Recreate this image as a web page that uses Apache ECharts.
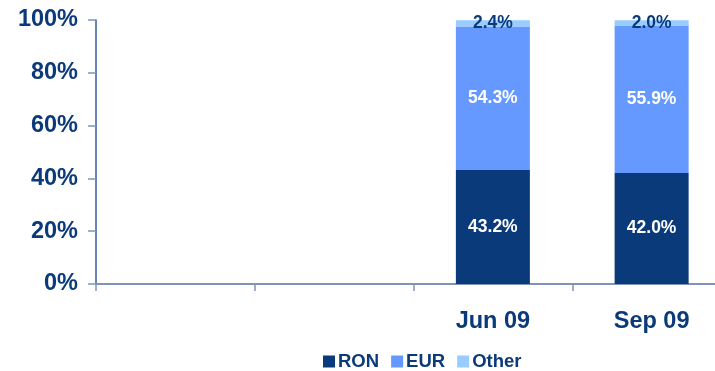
<!DOCTYPE html>
<html>
<head>
<meta charset="utf-8">
<script src="https://cdn.jsdelivr.net/npm/echarts@6/dist/echarts.min.js"></script>
<style>
  html, body { margin: 0; padding: 0; background: #fff; }
  #chart { width: 715px; height: 371px; }
</style>
</head>
<body>
<div id="chart"></div>
<script>
// Currency structure of balances, quarterly
const categories = ['', '', 'Jun 09', 'Sep 09'];
const ron   = ['-', '-', 43.2, 42.0];
const eur   = ['-', '-', 54.3, 55.9];
const other = ['-', '-', 2.4, 2.0];
const yTicks = [0, 20, 40, 60, 80, 100];

const NAVY = '#0B3A7A';
const FONT = '"Liberation Sans", Arial, sans-serif';

const pct = p => p.value.toFixed(1) + '%';

const chart = echarts.init(document.getElementById('chart'));
chart.setOption({
  animation: false,
  textStyle: { fontFamily: FONT },
  grid: { left: 96, top: 20, width: 635, height: 264, containLabel: false, outerBoundsMode: 'none' },
  legend: {
    left: 318, top: 347, itemWidth: 12, itemHeight: 12, itemGap: 12,
    icon: 'rect',
    textStyle: { color: NAVY, fontWeight: 'bold', fontSize: 18.5, fontFamily: FONT, padding: [0, 0, 0, -2] },
    data: ['RON', 'EUR', 'Other']
  },
  xAxis: {
    type: 'category',
    data: categories,
    axisLine: { lineStyle: { color: '#7F95B8', width: 2 } },
    axisTick: { show: true, length: 7, lineStyle: { color: '#7F95B8', width: 1.5 } },
    axisLabel: { color: NAVY, fontWeight: 'bold', fontSize: 23.5, margin: 26, fontFamily: FONT }
  },
  yAxis: {
    type: 'value', min: yTicks[0], max: yTicks[yTicks.length - 1], interval: 20,
    splitLine: { show: false },
    axisLine: { show: true, lineStyle: { color: '#3A5A96', width: 1.5 } },
    axisTick: { show: true, length: 8, lineStyle: { color: '#7F95B8', width: 1.5 } },
    axisLabel: { color: NAVY, fontWeight: 'bold', fontSize: 23.5, margin: 18, padding: [4, 0, 0, 0], formatter: v => v + '%', fontFamily: FONT }
  },
  series: [
    {
      name: 'RON', type: 'bar', stack: 'total', data: ron, barWidth: 74,
      itemStyle: { color: NAVY },
      label: { show: true, position: 'inside', color: '#fff', fontWeight: 'bold', fontSize: 17.5, formatter: pct, fontFamily: FONT }
    },
    {
      name: 'EUR', type: 'bar', stack: 'total', data: eur, barWidth: 74,
      itemStyle: { color: '#6699FF' },
      label: { show: true, position: 'inside', color: '#fff', fontWeight: 'bold', fontSize: 17.5, formatter: pct, fontFamily: FONT }
    },
    {
      name: 'Other', type: 'bar', stack: 'total', data: other, barWidth: 74,
      itemStyle: { color: '#99CCFF' },
      label: { show: true, position: 'inside', color: NAVY, fontWeight: 'bold', fontSize: 17.5, formatter: pct, fontFamily: FONT }
    }
  ]
});
</script>
</body>
</html>
